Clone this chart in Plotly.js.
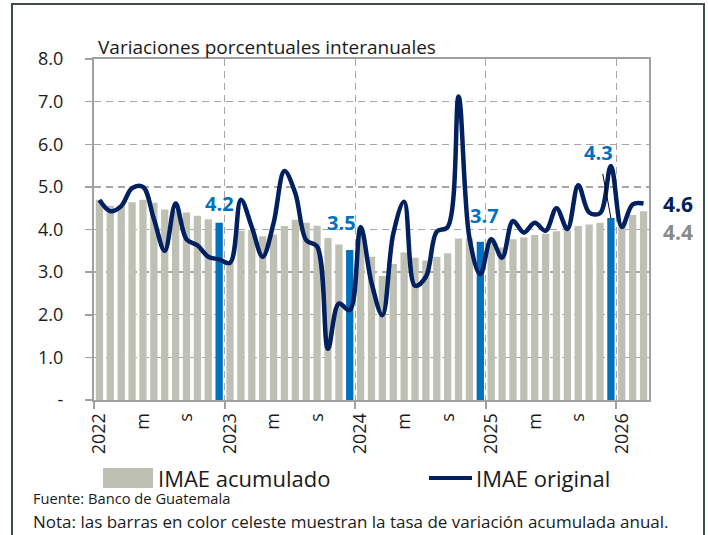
<!DOCTYPE html>
<html>
<head>
<meta charset="utf-8">
<script src="https://cdn.plot.ly/plotly-3.0.1.min.js"></script>
<style>
html,body{margin:0;padding:0;background:#fff;}
#wrap{position:relative;width:708px;height:535px;overflow:hidden;}
#chart{width:708px;height:535px;}
#frame{position:absolute;left:11px;top:3px;width:690px;height:545px;border:2px solid #3e5049;pointer-events:none;}
</style>
</head>
<body>
<div id="wrap"><div id="chart"></div><div id="frame"></div></div>
<script>
// ---- data (monthly, Jan 2022 .. Mar 2026) ----
const imaeAcumulado = [
  4.70, 4.56, 4.56, 4.64, 4.70, 4.63, 4.47, 4.44, 4.40, 4.32, 4.24, 4.16,
  3.22, 3.97, 3.99, 3.84, 3.88, 4.08, 4.23, 4.16, 4.09, 3.80, 3.65, 3.52,
  4.06, 3.36, 2.91, 3.19, 3.46, 3.34, 3.27, 3.36, 3.44, 3.79, 3.79, 3.71,
  3.77, 3.58, 3.77, 3.81, 3.87, 3.90, 3.96, 3.98, 4.08, 4.12, 4.16, 4.27,
  4.06, 4.34, 4.43
];
const imaeOriginal = [
  4.69, 4.43, 4.55, 4.97, 5.00, 4.25, 3.50, 4.61, 3.77, 3.63, 3.36, 3.30,
  3.22, 4.70, 4.06, 3.36, 4.15, 5.37, 4.85, 3.75, 3.60, 1.20, 2.26, 2.11,
  4.06, 2.75, 1.99, 3.90, 4.65, 2.68, 2.89, 3.95, 4.06, 7.12, 3.80, 2.95,
  3.77, 3.34, 4.20, 3.93, 4.16, 3.97, 4.50, 4.01, 5.04, 4.40, 4.38, 5.49,
  4.06, 4.59, 4.61
];
const tickLabels = ["2022","m","s","2023","m","s","2024","m","s","2025","m","s","2026"];
const yTickLabels = ["-","1.0","2.0","3.0","4.0","5.0","6.0","7.0","8.0"];
const seriesNames = ["IMAE acumulado","IMAE original"];
const titleText = "Variaciones porcentuales interanuales";
const sourceText = "Fuente: Banco de Guatemala";
const noteText = "Nota: las barras en color celeste muestran la tasa de variación acumulada anual.";

// ---- styling / layout constants ----
const W = 708, H = 535;
const M = {l:94, r:59, t:59, b:135};
const PW = W - M.l - M.r, PH = H - M.t - M.b;
const GRAY = "#BFC0B4", BLUE = "#0070C0", NAVY = "#002060";
const FONT = "Open Sans, Noto Sans, sans-serif";
const px2x = p => (p - M.l) / PW;
const py2y = p => (H - M.b - p) / PH;

const n = imaeAcumulado.length;
const xs = imaeAcumulado.map((_, i) => i + 0.5);
const barColors = imaeAcumulado.map((_, i) => (i % 12 === 11 ? BLUE : GRAY));

const traces = [
  {type:"bar", x:xs, y:imaeAcumulado, name:seriesNames[0],
   marker:{color:barColors, line:{width:0}}, hoverinfo:"skip"},
  {type:"scatter", mode:"lines", x:xs, y:imaeOriginal, name:seriesNames[1],
   line:{color:NAVY, width:4.5, shape:"spline", smoothing:1}, hoverinfo:"skip"}
];

// December label offsets (pixels) and arrow usage
const decOffsets = {11:{dx:0, dy:4}, 23:{dx:-8, dy:12}, 35:{dx:4, dy:11}, 47:{arrow:true, ax:-12, ay:-65}};
const annotations = [];
Object.keys(decOffsets).forEach(k => {
  const i = +k, o = decOffsets[k];
  const a = {x:xs[i], y:imaeAcumulado[i], xref:"x", yref:"y",
    text:"<b>" + imaeAcumulado[i].toFixed(1) + "</b>",
    font:{family:FONT, size:20, color:BLUE}};
  if (o.arrow) {
    Object.assign(a, {showarrow:true, ax:o.ax, ay:o.ay, arrowhead:0, arrowwidth:1,
      arrowcolor:"#000", standoff:0, startstandoff:6});
  } else {
    Object.assign(a, {showarrow:false, xanchor:"center", yanchor:"bottom", xshift:o.dx, yshift:o.dy});
  }
  annotations.push(a);
});
// end labels
annotations.push({x:xs[n-1], y:imaeOriginal[n-1], xref:"x", yref:"y", showarrow:false, borderpad:0,
  text:"<b>" + imaeOriginal[n-1].toFixed(1) + "</b>", xanchor:"center", yanchor:"middle",
  xshift:34, yshift:0, font:{family:FONT, size:21, color:NAVY}});
annotations.push({x:xs[n-1], y:imaeAcumulado[n-1], xref:"x", yref:"y", showarrow:false, borderpad:0,
  text:"<b>" + imaeAcumulado[n-1].toFixed(1) + "</b>", xanchor:"center", yanchor:"middle",
  xshift:34, yshift:-21, font:{family:FONT, size:21, color:"#8a8a8a"}});
// title
annotations.push({xref:"paper", yref:"paper", x:px2x(96), y:py2y(47), xanchor:"left", yanchor:"middle",
  showarrow:false, text:titleText, font:{family:FONT, size:19, color:"#1a1a1a"}});
// legend texts
annotations.push({xref:"paper", yref:"paper", x:px2x(156), y:py2y(478), xanchor:"left", yanchor:"middle",
  showarrow:false, text:seriesNames[0], font:{family:FONT, size:22, color:"#1a1a1a"}});
annotations.push({xref:"paper", yref:"paper", x:px2x(474), y:py2y(478), xanchor:"left", yanchor:"middle",
  showarrow:false, text:seriesNames[1], font:{family:FONT, size:22, color:"#1a1a1a"}});
// source and note
annotations.push({xref:"paper", yref:"paper", x:px2x(31), y:py2y(498), xanchor:"left", yanchor:"middle",
  showarrow:false, text:sourceText, font:{family:FONT, size:14.7, color:"#1a1a1a"}});
annotations.push({xref:"paper", yref:"paper", x:px2x(31), y:py2y(521), xanchor:"left", yanchor:"middle",
  showarrow:false, text:noteText, font:{family:FONT, size:17, color:"#1a1a1a"}});

const shapes = [
  {type:"rect", xref:"paper", yref:"paper", x0:px2x(103), x1:px2x(153), y0:py2y(468), y1:py2y(488),
   fillcolor:GRAY, line:{width:0}},
  {type:"line", xref:"paper", yref:"paper", x0:px2x(429), x1:px2x(472), y0:py2y(478), y1:py2y(478),
   line:{color:NAVY, width:4}}
];

const yearBounds = [0, 12, 24, 36, 48];
const layout = {
  width:W, height:H, margin:M, paper_bgcolor:"#fff", plot_bgcolor:"#fff",
  showlegend:false, bargap:0.33, font:{family:FONT, color:"#1a1a1a"},
  xaxis:{type:"linear", range:[0, n], fixedrange:true,
    tickmode:"array", tickvals:tickLabels.map((_, j) => j * 4 + 0.5), ticktext:tickLabels,
    tickangle:-90, ticks:"", showgrid:false, zeroline:false,
    tickfont:{family:FONT, size:18, color:"#1a1a1a"}, ticklabelstandoff:4,
    showline:true, linecolor:"#a0a0a0", linewidth:2, mirror:true,
    minor:{tickmode:"array", tickvals:yearBounds, ticks:"outside", ticklen:7, tickwidth:2,
      tickcolor:"#a0a0a0", showgrid:true, gridcolor:"#a6a6a6", gridwidth:1.3, griddash:"7px,5px"}},
  yaxis:{range:[0, 8], fixedrange:true, tickmode:"array",
    tickvals:yTickLabels.map((_, j) => j), ticktext:yTickLabels,
    ticks:"outside", ticklen:7, tickwidth:1.5, tickcolor:"#a0a0a0",
    tickfont:{family:FONT, size:18, color:"#1a1a1a"}, ticklabelstandoff:18,
    showgrid:true, gridcolor:"#a6a6a6", gridwidth:1.3, griddash:"7px,5px", zeroline:false,
    showline:true, linecolor:"#a0a0a0", linewidth:2, mirror:true},
  annotations:annotations, shapes:shapes
};

Plotly.newPlot("chart", traces, layout, {staticPlot:true, displayModeBar:false});
</script>
</body>
</html>
